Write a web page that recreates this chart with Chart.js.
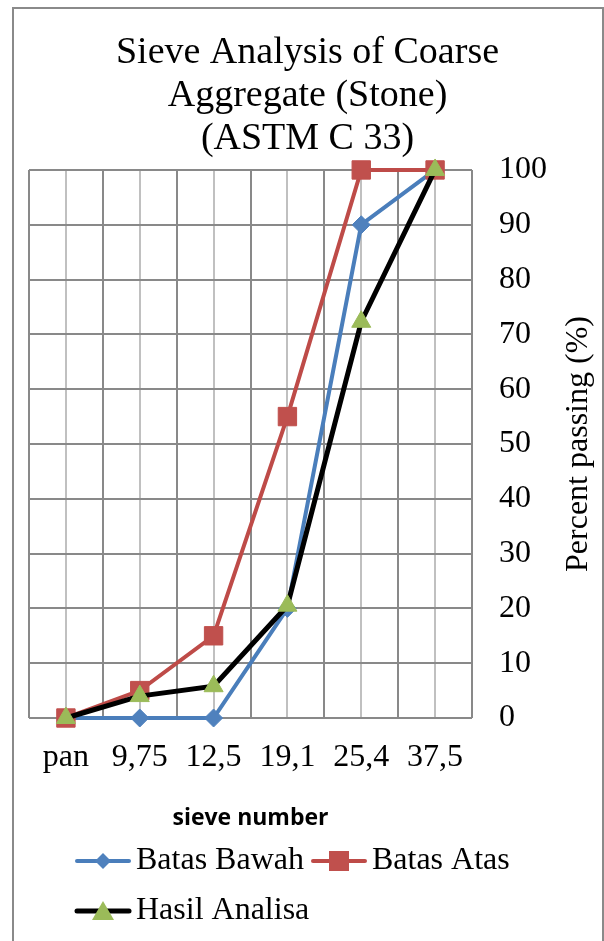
<!DOCTYPE html>
<html>
<head>
<meta charset="utf-8">
<script src="https://cdn.jsdelivr.net/npm/chart.js@4.4.1/dist/chart.umd.min.js"></script>
<style>
  html, body { margin: 0; padding: 0; background: #ffffff; }
  #wrap { position: relative; width: 604px; height: 941px; }
  #frame { position: absolute; left: 12px; top: 7px; width: 588px; height: 960px;
           border: 2px solid #8a8a8a; border-bottom: none; pointer-events: none; }
</style>
</head>
<body>
<div id="wrap">
  <canvas id="grafico" width="604" height="941"></canvas>
  <div id="frame"></div>
</div>
<script>
  // dados do grafico
  const categorias = ['pan', '9,75', '12,5', '19,1', '25,4', '37,5'];
  const batasBawah = [0, 0, 0, 20, 90, 100];
  const batasAtas = [0, 5, 15, 55, 100, 100];
  const hasilAnalisa = [0, 4, 5.8, 20.5, 72.3, 100];
  const judul = ['Sieve Analysis of Coarse', 'Aggregate (Stone)', '(ASTM C 33)'];
  const judulX = 'sieve number';
  const judulY = 'Percent passing (%)';

  const serif = "'Liberation Serif', 'Times New Roman', serif";
  const biru = '#4a7ebb', merah = '#be4b48', hijau = '#9bbb59';

  // icone da legenda: linha + marcador
  function iconeLegenda(corLinha, larguraLinha, corPonto, estilo) {
    const c = document.createElement('canvas');
    c.width = 58; c.height = 24;
    const g = c.getContext('2d');
    g.strokeStyle = corLinha;
    g.lineWidth = larguraLinha;
    g.lineCap = 'round';
    g.beginPath(); g.moveTo(3, 12); g.lineTo(55, 12); g.stroke();
    g.fillStyle = corPonto;
    g.beginPath();
    if (estilo === 'diamond') {
      g.moveTo(29, 4); g.lineTo(37, 12); g.lineTo(29, 20); g.lineTo(21, 12);
    } else if (estilo === 'square') {
      g.rect(19, 2, 20, 20);
    } else {
      g.moveTo(29, 2); g.lineTo(40, 21); g.lineTo(18, 21);
    }
    g.closePath(); g.fill();
    return c;
  }
  const icones = [
    iconeLegenda(biru, 4, '#4f81bd', 'diamond'),
    iconeLegenda(merah, 4, '#c0504d', 'square'),
    iconeLegenda('#000000', 5, hijau, 'triangle')
  ];

  // plugin: recuo da legenda e titulo do eixo y (lido de baixo para cima)
  const ajustes = {
    id: 'ajustes',
    afterLayout(chart) {
      chart.legend.left += 39;
    },
    afterDraw(chart) {
      const ctx = chart.ctx;
      const area = chart.chartArea;
      ctx.save();
      ctx.translate(chart.scales.y.right - 7, (area.top + area.bottom) / 2);
      ctx.rotate(-Math.PI / 2);
      ctx.font = '32px ' + serif;
      ctx.fillStyle = '#000000';
      ctx.textAlign = 'center';
      ctx.textBaseline = 'middle';
      ctx.fillText(judulY, 0, 0);
      ctx.restore();
    }
  };

  const dados = {
    labels: categorias,
    datasets: [{
      label: 'Batas Bawah',
      data: batasBawah,
      borderColor: biru,
      backgroundColor: '#4f81bd',
      pointBorderColor: '#4f81bd',
      borderWidth: 4,
      pointStyle: 'rectRot',
      pointRadius: 9,
      pointBorderWidth: 1,
      clip: false,
      order: 3
    }, {
      label: 'Batas Atas',
      data: batasAtas,
      borderColor: merah,
      backgroundColor: '#c0504d',
      pointBorderColor: '#c0504d',
      borderWidth: 4,
      pointStyle: 'rect',
      pointRadius: 13,
      pointBorderWidth: 1,
      clip: false,
      order: 2
    }, {
      label: 'Hasil Analisa',
      data: hasilAnalisa,
      borderColor: '#000000',
      backgroundColor: hijau,
      pointBorderColor: hijau,
      borderWidth: 5,
      pointStyle: 'triangle',
      pointRadius: 11,
      pointBorderWidth: 1,
      clip: false,
      order: 1
    }]
  };

  const config = {
    type: 'line',
    data: dados,
    plugins: [ajustes],
    options: {
      responsive: false,
      animation: false,
      layout: { padding: { left: 29, right: 18, top: 0, bottom: 4 } },
      plugins: {
        title: {
          display: true,
          text: judul,
          color: '#000000',
          font: { family: serif, size: 38, weight: 'normal', lineHeight: 1.14 },
          padding: { top: 31, bottom: 9 }
        },
        legend: {
          position: 'bottom',
          align: 'start',
          labels: {
            color: '#000000',
            font: { family: serif, size: 32 },
            usePointStyle: true,
            pointStyleWidth: 34,
            padding: 18,
            sort: (a, b) => a.datasetIndex - b.datasetIndex,
            generateLabels(chart) {
              const itens = Chart.defaults.plugins.legend.labels.generateLabels(chart);
              itens.forEach(item => { item.pointStyle = icones[item.datasetIndex]; });
              return itens;
            }
          }
        },
        tooltip: { enabled: false }
      },
      scales: {
        x: {
          type: 'category',
          offset: true,
          grid: { offset: true, color: '#898989', lineWidth: 2, drawTicks: false },
          border: { display: false },
          ticks: { color: '#000000', font: { family: serif, size: 32 }, padding: 20 },
          title: {
            display: true,
            text: judulX,
            color: '#000000',
            font: { family: "'Open Sans', 'Liberation Sans', sans-serif", size: 23, weight: 'bold' },
            padding: { top: 8, bottom: -5 }
          }
        },
        x2: {
          type: 'category',
          labels: categorias,
          position: 'bottom',
          offset: true,
          grid: { offset: false, color: '#c0c0c0', lineWidth: 2, drawTicks: false, z: -1 },
          border: { display: false },
          ticks: { display: false },
          afterFit(scale) { scale.height = 0; }
        },
        y: {
          position: 'right',
          min: 0,
          max: 100,
          ticks: { stepSize: 10, color: '#000000', font: { family: serif, size: 32 }, padding: 27 },
          grid: { color: '#898989', lineWidth: 2, drawTicks: false },
          border: { display: false },
          afterFit(scale) { scale.width = 114; }
        }
      }
    }
  };

  // Adicionando grafico na tela
  const meuGrafico = new Chart(document.getElementById('grafico'), config);
</script>
</body>
</html>
